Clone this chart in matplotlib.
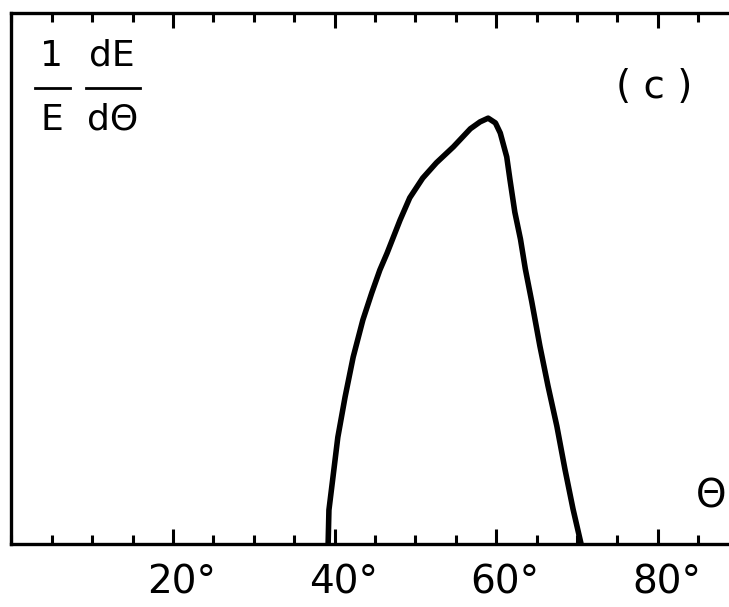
import numpy as np
import matplotlib.pyplot as plt
from matplotlib.ticker import MultipleLocator, FixedLocator
import matplotlib.transforms as mtransforms

plt.rcParams['font.family'] = ['DejaVu Sans']

# angular distribution (theta in degrees, relative units)
theta = [39.2, 39.3, 39.8, 40.4, 41.3, 42.3, 43.5, 44.6, 45.6, 46.5, 48.1,
         49.3, 50.9, 52.6, 54.7, 56.8, 58.0, 59.0, 59.9, 60.5, 61.3, 61.7,
         62.3, 63.0, 63.6, 64.4, 65.4, 66.4, 67.5, 68.5, 69.5, 70.5]
dE = [0.0, 0.064, 0.126, 0.201, 0.277, 0.352, 0.422, 0.473, 0.516, 0.548, 0.610,
      0.652, 0.689, 0.718, 0.748, 0.782, 0.795, 0.802, 0.793, 0.774, 0.729, 0.686,
      0.625, 0.574, 0.518, 0.456, 0.373, 0.298, 0.222, 0.141, 0.066, 0.0]

major_ticks = [20, 40, 60, 80]
tick_labels = ['20°', '40°', '60°', '80°']

W, H = 729, 607
fig = plt.figure(figsize=(W/100, H/100), dpi=100)
ax = fig.add_axes([11.3/W, 63/H, 1 - 11.3/W, 531/H])

ax.plot(theta, dE, color='black', lw=4, solid_joinstyle='round', solid_capstyle='round')

ax.set_xlim(0, 88.8)
ax.set_ylim(0, 1)

ax.xaxis.set_major_locator(FixedLocator(major_ticks))
ax.xaxis.set_minor_locator(MultipleLocator(5))
ax.set_xticklabels(tick_labels, fontsize=28)
ax.set_yticks([])
ax.tick_params(axis='x', which='both', direction='in', top=True, bottom=True, width=2.2, pad=14)
ax.tick_params(axis='x', which='major', length=11)
ax.tick_params(axis='x', which='minor', length=6.5)

# keep the digits centred on the tick, degree sign hanging to the right
off = mtransforms.ScaledTranslation(9/100, 0, fig.dpi_scale_trans)
for lab in ax.get_xticklabels():
    lab.set_transform(lab.get_transform() + off)

for s in ['left', 'bottom', 'top']:
    ax.spines[s].set_linewidth(2.4)
ax.spines['right'].set_visible(False)


def px(x, y):
    return x / W, 1 - y / H


# y label as stacked fractions
fs = 26
fig.text(*px(52, 56), '1', fontsize=fs, ha='center', va='center')
fig.text(*px(52, 120), 'E', fontsize=fs, ha='center', va='center')
fig.text(*px(112, 56), 'dE', fontsize=fs, ha='center', va='center')
fig.text(*px(113, 120), 'dΘ', fontsize=fs, ha='center', va='center')
for x0, x1 in [(35, 70), (86, 140)]:
    xa, ya = px(x0, 88)
    xb, _ = px(x1, 88)
    fig.add_artist(plt.Line2D([xa, xb], [ya, ya], color='black', lw=2))

fig.text(*px(654, 87), '( c )', fontsize=28, ha='center', va='center')
fig.text(*px(711, 496), 'Θ', fontsize=28, ha='center', va='center')

fig.savefig('out.png', dpi=100)
